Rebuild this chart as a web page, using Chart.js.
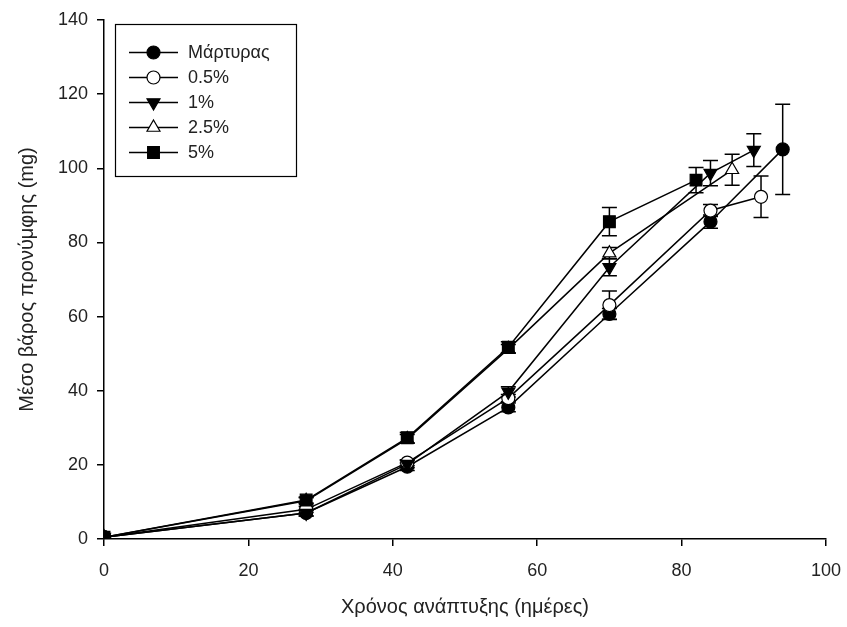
<!DOCTYPE html>
<html>
<head>
<meta charset="utf-8">
<script src="https://cdn.jsdelivr.net/npm/chart.js@4.4.1/dist/chart.umd.min.js"></script>
<style>
  html, body { margin: 0; padding: 0; background: #fff; }
</style>
</head>
<body>
<canvas id="chart" width="847" height="627"></canvas>
<script>
const seriesNames = ['Μάρτυρας', '0.5%', '1%', '2.5%', '5%'];

const daysControl = [0, 28, 42, 56, 70, 84, 94];
const weightControl = [0.5, 7, 19.5, 35.5, 60.7, 85.6, 105.1];
const errControl = [0, 0.8, 1, 1.2, 1.5, 1.8, 12.2];

const days05 = [0, 28, 42, 56, 70, 84, 91];
const weight05 = [0.5, 8, 20.6, 38, 63.1, 88.6, 92.3];
const err05 = [0, 0.8, 0.8, 1, 3.8, 1.6, 5.6];

const days1 = [0, 28, 42, 56, 70, 84, 90];
const weight1 = [0.5, 7, 20.2, 39.7, 73.3, 98.7, 104.9];
const err1 = [0, 0.8, 1, 1.4, 2.3, 3.4, 4.4];

const days25 = [0, 28, 42, 56, 70, 87];
const weight25 = [0.5, 10.3, 27, 51.3, 77.1, 99.6];
const err25 = [0, 0.8, 1.2, 1.2, 1.5, 4.2];

const days5 = [0, 28, 42, 56, 70, 82];
const weight5 = [0.5, 10.5, 27.3, 51.7, 85.6, 96.8];
const err5 = [0, 0.8, 1.4, 1.5, 3.8, 3.4];

const allDays = [daysControl, days05, days1, days25, days5];
const allWeights = [weightControl, weight05, weight1, weight25, weight5];
const allErrs = [errControl, err05, err1, err25, err5];

const pointStyles = ['circle', 'circle', 'triangle', 'triangle', 'rect'];
const pointRotations = [0, 0, 180, 0, 0];
const pointFills = ['#000', '#fff', '#000', '#fff', '#000'];
const pointRadii = [6.5, 6.5, 7.5, 7.5, 8.3];

const FONT = '"Liberation Sans", Arial, sans-serif';

function toPoints(xs, ys) {
    return xs.map((d, i) => ({ x: d, y: ys[i] }));
}

const datasets = seriesNames.map((name, i) => ({
    label: name,
    data: toPoints(allDays[i], allWeights[i]),
    order: seriesNames.length - i,   // later series drawn on top
    borderColor: '#000',
    borderWidth: 1.5,
    tension: 0,
    fill: false,
    pointStyle: pointStyles[i],
    pointRotation: pointRotations[i],
    pointRadius: pointRadii[i],
    pointHoverRadius: pointRadii[i],
    pointBackgroundColor: pointFills[i],
    pointBorderColor: '#000',
    pointBorderWidth: 1.2
}));

// error bars, drawn before the lines and markers
const errorBars = {
    id: 'errorBars',
    beforeDatasetsDraw(chart) {
        const ctx = chart.ctx;
        const x = chart.scales.x, y = chart.scales.y;
        ctx.save();
        ctx.strokeStyle = '#000';
        ctx.lineWidth = 1.5;
        allErrs.forEach((errs, i) => {
            chart.data.datasets[i].data.forEach((p, j) => {
                const e = errs[j];
                if (!e) return;
                const px = x.getPixelForValue(p.x);
                const top = y.getPixelForValue(p.y + e);
                const bot = y.getPixelForValue(p.y - e);
                ctx.beginPath();
                ctx.moveTo(px, top); ctx.lineTo(px, bot);
                ctx.moveTo(px - 7.5, top); ctx.lineTo(px + 7.5, top);
                ctx.moveTo(px - 7.5, bot); ctx.lineTo(px + 7.5, bot);
                ctx.stroke();
            });
        });
        ctx.restore();
    }
};

// boxed legend with line + marker samples
const legendBox = {
    id: 'legendBox',
    afterDraw(chart) {
        const ctx = chart.ctx;
        ctx.save();
        ctx.strokeStyle = '#000';
        ctx.lineWidth = 1.2;
        ctx.strokeRect(115.5, 24.5, 181, 152);
        chart.data.datasets.forEach((ds, i) => {
            const yy = 52.5 + i * 25;
            ctx.strokeStyle = '#000';
            ctx.lineWidth = 1.5;
            ctx.beginPath();
            ctx.moveTo(129, yy); ctx.lineTo(178, yy);
            ctx.stroke();
            ctx.fillStyle = ds.pointBackgroundColor;
            ctx.lineWidth = ds.pointBorderWidth;
            Chart.helpers.drawPoint(ctx, {
                pointStyle: ds.pointStyle,
                rotation: ds.pointRotation,
                radius: ds.pointRadius,
                borderWidth: ds.pointBorderWidth
            }, 153.5, yy);
            ctx.fillStyle = '#222';
            ctx.font = '18px ' + FONT;
            ctx.textBaseline = 'middle';
            ctx.fillText(ds.label, 188, yy + 1);
        });
        ctx.restore();
    }
};

const ctx = document.getElementById('chart').getContext('2d');

const weightChart = new Chart(ctx, {
    type: 'line',
    data: { datasets: datasets },
    plugins: [errorBars, legendBox],
    options: {
        responsive: false,
        devicePixelRatio: 1,
        animation: false,
        layout: { padding: { left: 0, right: 21, top: 20, bottom: 0 } },
        plugins: {
            legend: { display: false },
            tooltip: { enabled: false }
        },
        scales: {
            x: {
                type: 'linear',
                min: 0,
                max: 100,
                afterFit(scale) {
                    scale.height = 88;
                    scale.paddingLeft = 0;
                    scale.paddingRight = 0;
                },
                ticks: { stepSize: 20, color: '#222', font: { family: FONT, size: 18 }, padding: 14, maxRotation: 0 },
                grid: { drawOnChartArea: false, drawTicks: true, tickLength: 7, color: '#000', lineWidth: 1.5 },
                border: { display: true, color: '#000', width: 1.5 },
                title: {
                    display: true,
                    text: 'Χρόνος ανάπτυξης (ημέρες)',
                    color: '#222',
                    font: { family: FONT, size: 20 },
                    padding: { top: 0, bottom: 8 }
                }
            },
            y: {
                min: 0,
                max: 140,
                afterFit(scale) {
                    scale.width = 104;
                    scale.paddingTop = 0;
                    scale.paddingBottom = 0;
                },
                ticks: { stepSize: 20, color: '#222', font: { family: FONT, size: 18 }, padding: 9 },
                grid: { drawOnChartArea: false, drawTicks: true, tickLength: 7, color: '#000', lineWidth: 1.5 },
                border: { display: true, color: '#000', width: 1.5 },
                title: {
                    display: true,
                    text: 'Μέσο βάρος προνύμφης (mg)',
                    color: '#222',
                    font: { family: FONT, size: 20 },
                    padding: { top: 15, bottom: 0 }
                }
            }
        }
    }
});
</script>
</body>
</html>
